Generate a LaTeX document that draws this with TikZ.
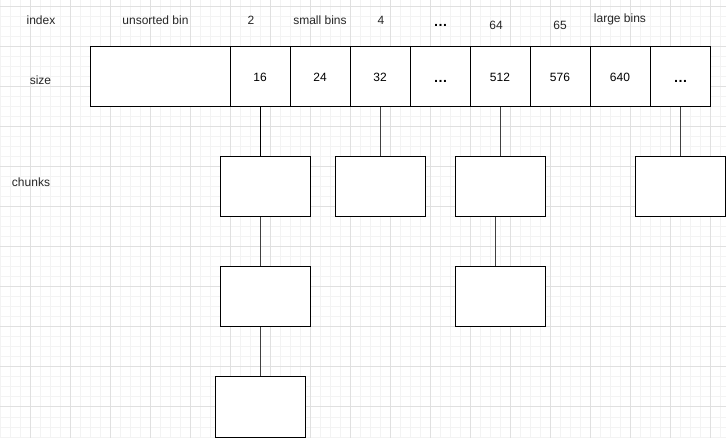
\documentclass[tikz,border=0pt]{standalone}
\usepackage{fontspec}
\setmainfont{Liberation Sans}
\definecolor{gminor}{HTML}{F3F3F3}
\definecolor{gmajor}{HTML}{E0E0E0}
\begin{document}
\begin{tikzpicture}[x=1pt,y=-1pt,
  lbl/.style={font=\fontsize{12}{14}\selectfont, inner sep=0pt, text=black!85},
  dots/.style={font=\bfseries\fontsize{14}{16}\selectfont, inner sep=0pt},
  cell/.style={draw, line width=1pt, minimum width=60pt, minimum height=60pt, inner sep=0pt, fill=white, font=\fontsize{12}{14}\selectfont},
  chunk/.style={draw, line width=1pt, minimum width=90pt, minimum height=60pt, inner sep=0pt, fill=white},
  link/.style={line width=1pt, draw=black!75}]
\useasboundingbox (0,0) rectangle (726,438);
\fill[white] (0,0) rectangle (726,438);
\foreach \x in {0,10,...,720} \draw[gminor, line width=1pt] (\x,0) -- (\x,438);
\foreach \y in {7,17,...,437} \draw[gminor, line width=1pt] (0,\y) -- (726,\y);
\foreach \x in {30,70,...,710} \draw[gmajor, line width=1pt] (\x,0) -- (\x,438);
\foreach \y in {7,47,...,407} \draw[gmajor, line width=1pt] (0,\y) -- (726,\y);

% top labels
\node[lbl] (lindex) at (41,20) {index};
\node[lbl] (lunsorted) at (155.5,20) {unsorted bin};
\node[lbl] (l2) at (251,20) {2};
\node[lbl] (lsmall) at (320,20) {small bins};
\node[lbl] (l4) at (381,20) {4};
\node[dots] (ldots) at (440.5,25) {\ldots};
\node[lbl] (l64) at (496,25) {64};
\node[lbl] (l65) at (560,25) {65};
\node[lbl] (llarge) at (620,19) {large bins};
\node[lbl] (lsize) at (40.5,80) {size};
\node[lbl] (lchunks) at (31,182) {chunks};

% bins row
\node[cell, minimum width=140pt] (cu) at (160,77) {};
\node[cell] (c16) at (260,77) {16};
\node[cell] (c24) at (320,77) {24};
\node[cell] (c32) at (380,77) {32};
\node[cell] (cd1) at (440,77) {};
\node[cell] (c512) at (500,77) {512};
\node[cell] (c576) at (560,77) {576};
\node[cell] (c640) at (620,77) {640};
\node[cell] (cd2) at (680,77) {};
\node[dots] (td1) at (440.5,81) {\ldots};
\node[dots] (td2) at (680.5,81) {\ldots};

% chunks
\node[chunk] (k1) at (265,187) {};
\node[chunk] (k2) at (380,187) {};
\node[chunk] (k3) at (500,187) {};
\node[chunk] (k4) at (680,187) {};
\node[chunk] (k5) at (265,297) {};
\node[chunk] (k6) at (500,297) {};
\node[chunk] (k7) at (260,407) {};

% connectors
\draw[line width=1pt] (c16.south) -- (c16.south |- k1.north);
\draw[link] (k1.south -| c16.south) -- (k5.north -| c16.south);
\draw[link] (k5.south -| k7.north) -- (k7.north);
\draw[link] (c32.south) -- (k2.north);
\draw[link] (c512.south) -- (k3.north);
\draw[link] ([xshift=-5pt]k3.south) -- ([xshift=-5pt]k6.north);
\draw[link] (cd2.south) -- (k4.north);
\end{tikzpicture}
\end{document}
